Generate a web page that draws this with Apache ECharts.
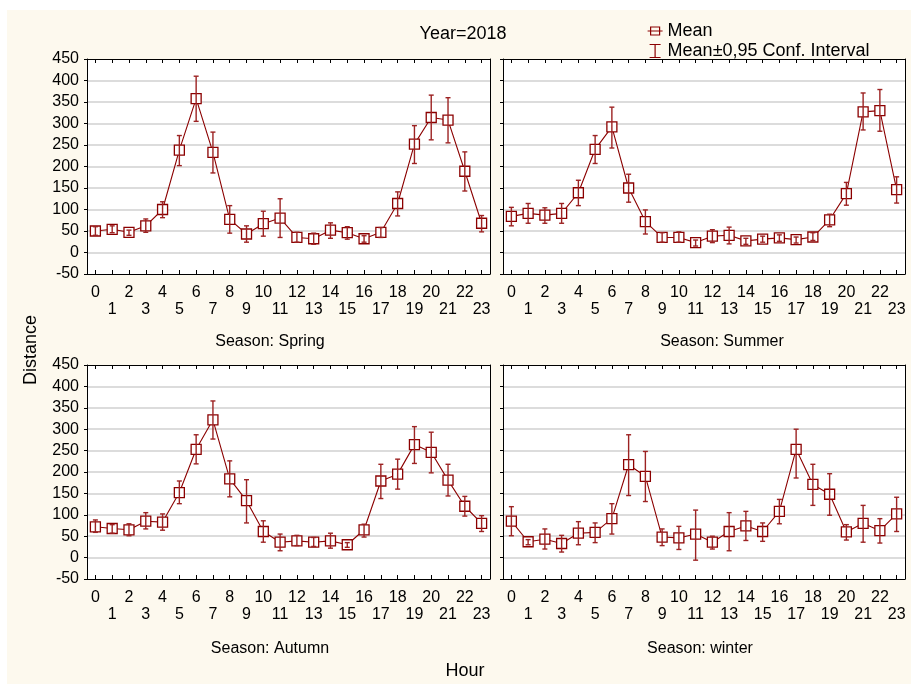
<!DOCTYPE html>
<html>
<head>
<meta charset="utf-8">
<script src="https://cdn.jsdelivr.net/npm/echarts@6/dist/echarts.min.js"></script>
<style>
  html, body { margin: 0; padding: 0; background: #ffffff; }
  #paper { position: absolute; left: 7px; top: 10px; width: 904px; height: 674px; background: #fdf9ee; }
  #chart { position: absolute; left: 0; top: 0; width: 911px; height: 684px; }
</style>
</head>
<body>
<div id="paper"></div>
<div id="chart"></div>
<script>
// Hour of day (category axis)
const hours = ['0','1','2','3','4','5','6','7','8','9','10','11','12','13','14','15','16','17','18','19','20','21','22','23'];
const yTicks = [-50, 0, 50, 100, 150, 200, 250, 300, 350, 400, 450];

// Spring
const springMean = [50, 54, 47, 62, 100, 238, 358, 233, 77, 43, 67, 80, 35, 32, 52, 46, 32, 47, 114, 252, 314, 308, 189, 68];
const springLow  = [40, 46, 40, 47, 81, 202, 305, 185, 45, 24, 38, 35, 24, 19, 33, 31, 24, 35, 85, 207, 262, 255, 143, 48];
const springHigh = [60, 62, 52, 78, 118, 272, 410, 280, 109, 62, 96, 125, 47, 45, 69, 60, 39, 58, 141, 295, 366, 360, 234, 86];

// Summer
const summerMean = [84, 91, 87, 91, 139, 240, 292, 150, 72, 35, 35, 23, 38, 40, 27, 31, 34, 30, 36, 76, 137, 327, 330, 146];
const summerLow  = [62, 68, 68, 68, 109, 207, 243, 117, 43, 24, 24, 15, 23, 20, 19, 24, 26, 22, 28, 60, 110, 285, 282, 115];
const summerHigh = [105, 114, 104, 114, 168, 272, 338, 182, 99, 46, 48, 29, 53, 59, 33, 38, 41, 36, 46, 89, 163, 371, 379, 176];

// Autumn
const autumnMean = [72, 68, 65, 85, 83, 152, 253, 322, 184, 133, 61, 36, 39, 36, 39, 30, 65, 179, 195, 264, 246, 181, 120, 80];
const autumnLow  = [59, 57, 51, 67, 64, 126, 219, 277, 142, 81, 36, 16, 28, 26, 22, 24, 48, 138, 160, 220, 198, 144, 97, 61];
const autumnHigh = [88, 77, 79, 105, 102, 179, 287, 366, 226, 182, 86, 55, 52, 47, 57, 35, 78, 218, 230, 306, 293, 218, 143, 98];

// winter
const winterMean = [85, 37, 43, 33, 57, 59, 91, 217, 190, 48, 46, 55, 36, 61, 74, 61, 108, 253, 171, 148, 60, 80, 63, 102];
const winterLow  = [51, 30, 20, 13, 30, 35, 55, 145, 131, 28, 19, -6, 20, 16, 40, 38, 79, 186, 122, 99, 41, 36, 34, 61];
const winterHigh = [119, 42, 67, 52, 84, 81, 126, 287, 248, 67, 73, 111, 50, 105, 108, 81, 136, 300, 218, 196, 77, 122, 91, 141];

const seasons = [
  { label: 'Season: Spring', mean: springMean, low: springLow, high: springHigh },
  { label: 'Season: Summer', mean: summerMean, low: summerLow, high: summerHigh },
  { label: 'Season: Autumn', mean: autumnMean, low: autumnLow, high: autumnHigh },
  { label: 'Season: winter', mean: winterMean, low: winterLow, high: winterHigh }
];

const FONT = "'Liberation Sans', Arial, sans-serif";
const MAROON = '#8b0000';
const BAR = '#9c2222';
const FRAME = { show: true, onZero: false, lineStyle: { color: '#000', width: 1 } };

const grids = [
  { left: 87,  top: 59,  width: 403, height: 215 },
  { left: 503, top: 59,  width: 402, height: 215 },
  { left: 87,  top: 365, width: 403, height: 214 },
  { left: 503, top: 365, width: 402, height: 214 }
];
// where each panel's caption sits
const captionPos = [[265, 329], [717, 329], [265, 636], [695, 636]];

const xAxes = [];
const yAxes = [];
const series = [];
const titles = [{
  text: 'Year=2018', left: 458, top: 20, textAlign: 'center',
  textStyle: { fontFamily: FONT, fontSize: 18, fontWeight: 'normal', color: '#000' }
}, {
  text: 'Hour', left: 460, top: 657, textAlign: 'center',
  textStyle: { fontFamily: FONT, fontSize: 18, fontWeight: 'normal', color: '#000' }
}];

function errorBar(params, api) {
  const i = api.value(0);
  const lo = api.coord([i, api.value(1)]);
  const hi = api.coord([i, api.value(2)]);
  const cap = 2.5;
  const style = { stroke: BAR, lineWidth: 1.4 };
  return {
    type: 'group',
    children: [
      { type: 'line', shape: { x1: lo[0], y1: lo[1], x2: hi[0], y2: hi[1] }, style: style },
      { type: 'line', shape: { x1: hi[0] - cap, y1: hi[1], x2: hi[0] + cap, y2: hi[1] }, style: style },
      { type: 'line', shape: { x1: lo[0] - cap, y1: lo[1], x2: lo[0] + cap, y2: lo[1] }, style: style }
    ]
  };
}

seasons.forEach(function (s, k) {
  const showY = (k % 2 === 0);
  // bottom axis with the staggered hour labels
  xAxes.push({
    type: 'category', gridIndex: k, data: hours, position: 'bottom', boundaryGap: true,
    axisLine: FRAME,
    axisTick: { show: true, inside: true, length: 4, alignWithLabel: true, interval: 0, lineStyle: { color: '#000' } },
    axisLabel: {
      interval: 0, margin: 10, fontFamily: FONT, fontSize: 16, lineHeight: 17, color: '#000',
      formatter: function (v, idx) { return idx % 2 ? '\n' + v : v; }
    },
    splitLine: { show: false }
  });
  // top edge of the frame, with ticks
  xAxes.push({
    type: 'category', gridIndex: k, data: hours, position: 'top', boundaryGap: true,
    axisLine: FRAME,
    axisTick: { show: true, inside: true, length: 4, alignWithLabel: true, interval: 0, lineStyle: { color: '#000' } },
    axisLabel: { show: false },
    splitLine: { show: false }
  });
  yAxes.push({
    type: 'value', gridIndex: k, min: -50, max: 450, interval: 50, position: 'left',
    axisLine: FRAME,
    axisTick: { show: true, length: 3, lineStyle: { color: '#000' } },
    axisLabel: {
      show: showY, margin: 8, fontFamily: FONT, fontSize: 16, color: '#000',
      customValues: yTicks
    },
    splitLine: { show: true, showMinLine: false, showMaxLine: false, lineStyle: { color: '#dcdcdc', width: 2 } }
  });
  series.push({
    name: 'Mean', type: 'line', xAxisIndex: 2 * k, yAxisIndex: 2 * k,
    data: s.mean, symbol: 'rect', symbolSize: [10, 10],
    lineStyle: { color: MAROON, width: 1.1 },
    itemStyle: { color: '#ffffff', borderColor: MAROON, borderWidth: 1.3 },
    emphasis: { disabled: true }, z: 3
  });
  series.push({
    name: 'Mean±0,95 Conf. Interval', type: 'custom', xAxisIndex: 2 * k, yAxisIndex: 2 * k,
    data: s.mean.map(function (m, i) { return [i, s.low[i], s.high[i]]; }),
    encode: { x: 0, y: [1, 2] },
    renderItem: errorBar, itemStyle: { color: BAR }, z: 4, silent: true
  });
  // right edge of the frame
  yAxes.push({
    type: 'value', gridIndex: k, min: -50, max: 450, interval: 50, position: 'right',
    axisLine: FRAME, axisTick: { show: false }, axisLabel: { show: false }, splitLine: { show: false }
  });
  titles.push({
    text: s.label, left: captionPos[k][0], top: captionPos[k][1], textAlign: 'center',
    textStyle: { fontFamily: FONT, fontSize: 16, fontWeight: 'normal', color: '#000' }
  });
});

const chart = echarts.init(document.getElementById('chart'), null, { renderer: 'canvas' });
chart.setOption({
  backgroundColor: 'transparent',
  animation: false,
  title: titles,
  legend: {
    orient: 'vertical', left: 642, top: 17, itemGap: 2, itemWidth: 15, itemHeight: 13,
    selectedMode: false,
    textStyle: { fontFamily: FONT, fontSize: 18, color: '#000', lineHeight: 18 },
    data: [
      { name: 'Mean', icon: 'path://M3,2H12V10H3Z M0,6H15',
        itemStyle: { color: 'rgba(0,0,0,0)', borderColor: MAROON, borderWidth: 1.2 } },
      { name: 'Mean±0,95 Conf. Interval', icon: 'path://M2,0H13 M7.5,0V13 M2,13H13',
        itemStyle: { color: 'rgba(0,0,0,0)', borderColor: MAROON, borderWidth: 1.2 } }
    ]
  },
  grid: grids.map(function (g) {
    return Object.assign({ show: true, backgroundColor: '#ffffff', borderWidth: 0, containLabel: false }, g);
  }),
  xAxis: xAxes,
  yAxis: yAxes,
  series: series,
  graphic: [{
    type: 'text', x: 31, y: 350, rotation: Math.PI / 2,
    style: { text: 'Distance', font: '18px ' + FONT, fill: '#000', align: 'center', verticalAlign: 'middle' }
  }]
});
</script>
</body>
</html>
